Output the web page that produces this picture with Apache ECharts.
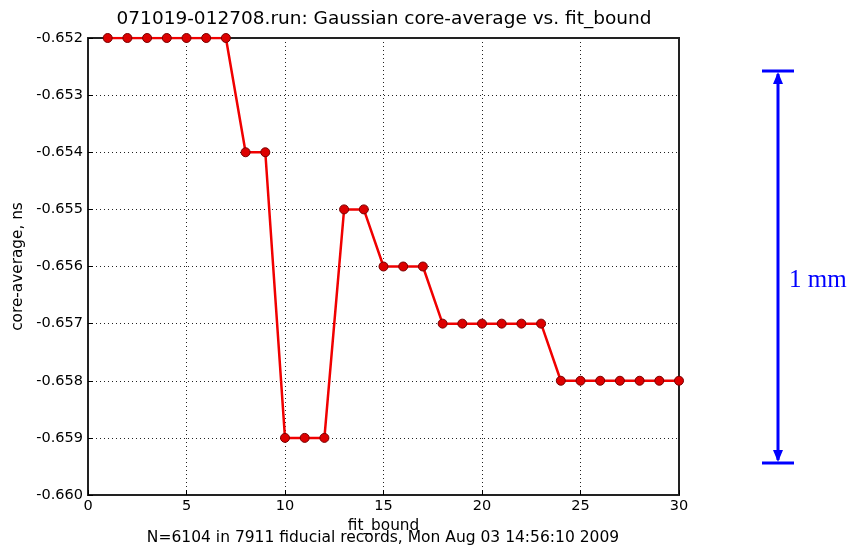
<!DOCTYPE html>
<html>
<head>
<meta charset="utf-8">
<script src="https://cdn.jsdelivr.net/npm/echarts@6/dist/echarts.min.js"></script>
<style>
  html, body { margin: 0; padding: 0; background: #fff; }
  #chart { width: 851px; height: 556px; }
</style>
</head>
<body>
<div id="chart"></div>
<script>
// fit_bound values and the resulting Gaussian core-average (ns)
const fitBound = [1, 2, 3, 4, 5, 6, 7, 8, 9, 10, 11, 12, 13, 14, 15,
                  16, 17, 18, 19, 20, 21, 22, 23, 24, 25, 26, 27, 28, 29, 30];
const coreAverage = [-0.652, -0.652, -0.652, -0.652, -0.652, -0.652, -0.652,
                     -0.654, -0.654,
                     -0.659, -0.659, -0.659,
                     -0.655, -0.655,
                     -0.656, -0.656, -0.656,
                     -0.657, -0.657, -0.657, -0.657, -0.657, -0.657,
                     -0.658, -0.658, -0.658, -0.658, -0.658, -0.658, -0.658];

const titleText = '071019-012708.run: Gaussian core-average vs. fit_bound';
const xName = 'fit_bound';
const yName = 'core-average, ns';
const footText = 'N=6104 in 7911 fiducial records, Mon Aug 03 14:56:10 2009';
const scaleText = '1 mm';

const font = 'DejaVu Sans';
const chart = echarts.init(document.getElementById('chart'), null, { renderer: 'canvas' });

const gridLineStyle = { show: true, lineStyle: { color: '#222', type: [1, 3], width: 1 } };
const tickStyle = { show: true, inside: true, length: 5, lineStyle: { color: '#000' } };

chart.setOption({
  animation: false,
  backgroundColor: '#fff',
  title: {
    text: titleText,
    left: 379, top: 5, textAlign: 'center',
    textStyle: { fontFamily: font, fontSize: 18.5, fontWeight: 'normal', color: '#000' }
  },
  grid: {
    left: 88, right: 172, top: 38, bottom: 61,
    outerBoundsMode: 'none', containLabel: false,
    show: true, borderColor: '#222', borderWidth: 2, backgroundColor: 'transparent'
  },
  xAxis: {
    type: 'value', min: 0, max: 30, interval: 5,
    name: xName, nameLocation: 'middle', nameGap: 19,
    nameTextStyle: { fontFamily: font, fontSize: 15.3, color: '#000' },
    axisLine: { show: false },
    axisTick: tickStyle,
    axisLabel: { fontFamily: font, fontSize: 14.5, color: '#000', margin: 4 },
    splitLine: gridLineStyle
  },
  yAxis: {
    type: 'value', min: -0.660, max: -0.652, interval: 0.001,
    name: yName, nameLocation: 'middle', nameGap: 60, nameRotate: 90,
    nameTextStyle: { fontFamily: font, fontSize: 15.3, color: '#000' },
    axisLine: { show: false },
    axisTick: tickStyle,
    axisLabel: { fontFamily: font, fontSize: 14.5, color: '#000', margin: 5,
                 formatter: v => v.toFixed(3) },
    splitLine: gridLineStyle
  },
  series: [{
    type: 'line',
    data: fitBound.map((x, i) => [x, coreAverage[i]]),
    lineStyle: { color: '#f00000', width: 2.5 },
    symbol: 'circle', symbolSize: 9,
    itemStyle: { color: '#dd0000', borderColor: '#7a0000', borderWidth: 1 },
    clip: true,
    z: 5
  }],
  graphic: [
    {
      type: 'text', x: 383, y: 538,
      style: { text: footText, font: '15.5px "DejaVu Sans"', fill: '#000',
               align: 'center', verticalAlign: 'middle' }
    },
    // scale bar with arrowheads and end caps
    { type: 'line', shape: { x1: 778, y1: 74, x2: 778, y2: 460 }, style: { stroke: '#0000ff', lineWidth: 3 } },
    { type: 'line', shape: { x1: 762, y1: 71, x2: 794, y2: 71 }, style: { stroke: '#0000ff', lineWidth: 3 } },
    { type: 'line', shape: { x1: 762, y1: 463, x2: 794, y2: 463 }, style: { stroke: '#0000ff', lineWidth: 3 } },
    { type: 'polygon', shape: { points: [[778, 72], [773, 84], [783, 84]] }, style: { fill: '#0000ff' } },
    { type: 'polygon', shape: { points: [[778, 462], [773, 450], [783, 450]] }, style: { fill: '#0000ff' } },
    { type: 'text', x: 789, y: 280,
      style: { text: scaleText, font: '25px "Liberation Serif"', fill: '#0000ff',
               align: 'left', verticalAlign: 'middle' } }
  ]
});
</script>
</body>
</html>
